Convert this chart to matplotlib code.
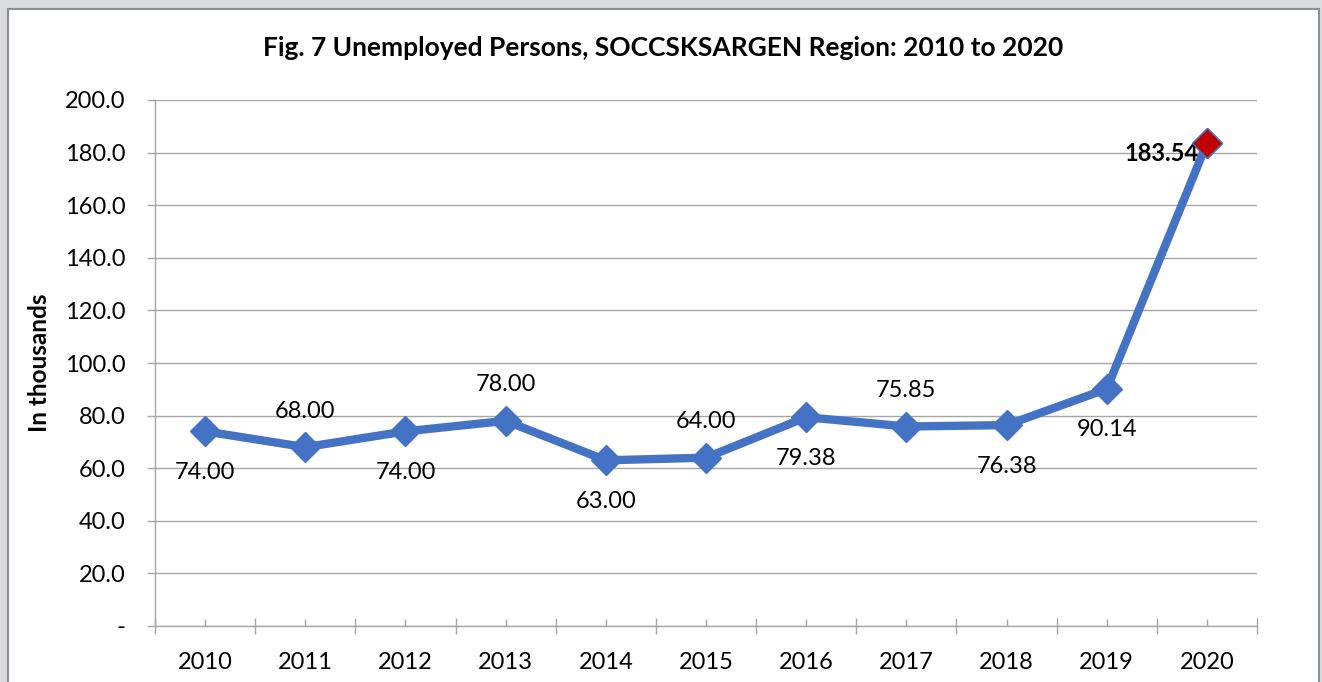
import matplotlib
matplotlib.use("Agg")
import matplotlib.pyplot as plt
from matplotlib.patches import Rectangle
from matplotlib.ticker import FixedLocator, FuncFormatter

years = ["2010", "2011", "2012", "2013", "2014", "2015", "2016", "2017", "2018", "2019", "2020"]
unemployed = [74.00, 68.00, 74.00, 78.00, 63.00, 64.00, 79.38, 75.85, 76.38, 90.14, 183.54]
label_side = ["below", "above", "below", "above", "below", "above", "below", "above", "below", "below", "left"]

plt.rcParams["font.family"] = ["Lato", "DejaVu Sans"]

BLUE = "#4472C4"
GRID = "#A6A6A6"

fig = plt.figure(figsize=(13.22, 6.82), dpi=100)
fig.patch.set_facecolor("#d9dbdd")
fig.patches.append(Rectangle((8 / 1322, -0.02), 1311 / 1322, 1.02 - 9 / 682,
                             transform=fig.transFigure, facecolor="white",
                             edgecolor="#8f8f8f", linewidth=1.5, zorder=-5))

ax = fig.add_axes([155 / 1322, 1 - 626 / 682, 1102 / 1322, 526 / 682])
ax.set_facecolor("none")

x = list(range(len(years)))
ax.plot(x, unemployed, color=BLUE, linewidth=6, marker="D", markersize=15,
        markerfacecolor=BLUE, markeredgecolor=BLUE, zorder=3, solid_joinstyle="miter")
ax.plot([x[-1]], [unemployed[-1]], linestyle="none", marker="D", markersize=15,
        markerfacecolor="#C00000", markeredgecolor=BLUE, markeredgewidth=1, zorder=4)

for xi, v, side in zip(x, unemployed, label_side):
    if side == "above":
        ax.annotate(f"{v:.2f}", (xi, v), xytext=(0, 26), textcoords="offset points",
                    ha="center", va="center", fontsize=17, color="black")
    elif side == "below":
        ax.annotate(f"{v:.2f}", (xi, v), xytext=(0, -29.5), textcoords="offset points",
                    ha="center", va="center", fontsize=17, color="black")
    else:
        ax.annotate(f"{v:.2f}", (xi, v), xytext=(-6, -7), textcoords="offset points",
                    ha="right", va="center", fontsize=17, fontweight="bold", color="black")

ax.set_xlim(-0.5, len(years) - 0.5)
ax.set_ylim(0, 200)
ax.set_yticks(range(0, 201, 20))
ax.yaxis.set_major_formatter(FuncFormatter(lambda v, p: "-" if v == 0 else f"{v:.1f}"))
ax.grid(axis="y", color=GRID, linewidth=1)
ax.set_axisbelow(True)

ax.xaxis.set_major_locator(FixedLocator([i - 0.5 for i in range(len(years) + 1)]))
ax.xaxis.set_major_formatter(FuncFormatter(lambda v, p: ""))
ax.xaxis.set_minor_locator(FixedLocator(x))
ax.set_xticklabels(years, minor=True)
ax.tick_params(axis="x", which="major", direction="inout", length=11, color=GRID, width=1)
ax.tick_params(axis="x", which="minor", direction="in", length=5, color=GRID, width=1,
               labelsize=17, pad=18.5)
ax.tick_params(axis="y", direction="out", length=6, color=GRID, width=1,
               labelsize=17, pad=15)

for s in ["top", "right"]:
    ax.spines[s].set_visible(False)
for s in ["left", "bottom"]:
    ax.spines[s].set_color(GRID)
    ax.spines[s].set_linewidth(1)

ax.set_ylabel("In thousands", fontsize=17.5, fontweight="bold")
ax.yaxis.set_label_coords(-104 / 1102, 0.5)
fig.text(663 / 1322, 1 - 48 / 682, "Fig. 7 Unemployed Persons, SOCCSKSARGEN Region: 2010 to 2020",
         ha="center", va="center", fontsize=19, fontweight="bold")

fig.savefig("out.png", dpi=100, facecolor=fig.get_facecolor())
